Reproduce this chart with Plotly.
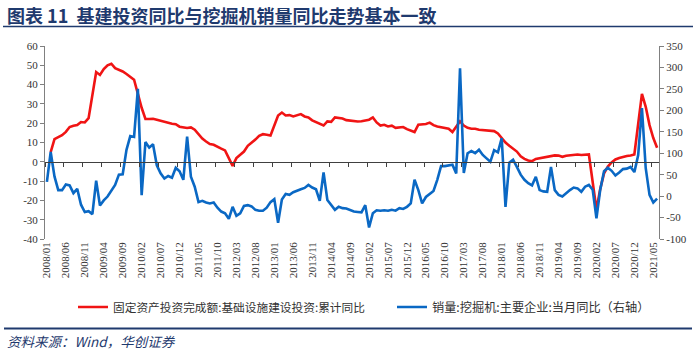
import plotly.graph_objects as go

# ---------------- data ----------------
months = [f"{y}/{m:02d}" for y in range(2008, 2022) for m in range(1, 13)][:162]  # 2008/01 .. 2021/06
tick_labels = months[::5]

# 固定资产投资完成额:基础设施建设投资:累计同比 (%, left axis) — January not published
infra_yoy = [
    None, 5, 11.8, 12.8, 13.8, 15.5, 18, 18.7, 19, 20.6, 20.4, 22.6,
    None, 46.5, 45, 48, 50, 50.8, 48.5, 47.7, 46.8, 45.5, 44.2, 42.5,
    None, 28, 22.2, 22.2, 22.3, 21.8, 21.3, 20.8, 20, 19.7, 19.5, 18.2,
    None, 17.5, 17.8, 16.6, 14, 12, 10.5, 9.2, 8.8, 8, 6.8, 5.9,
    None, -2.1, 1.9, 3.6, 5.3, 8.3, 9.8, 11.5, 13.5, 14.3, 14, 13.6,
    None, 24, 25.5, 24, 24.2, 23.5, 24, 24.7, 23.5, 23, 21.5, 20.5,
    None, 18.8, 20.9, 20.7, 23, 22.8, 22.4, 21.6, 21.3, 21.2, 20.9, 21.0,
    None, 21.8, 23, 20.4, 18.8, 19.2, 18.3, 18.7, 17.6, 17.9, 18, 16.9,
    None, 15.4, 19.2, 19.5, 19.6, 20.3, 19, 18.3, 17.9, 17.5, 17.1, 15.4,
    None, 21, 18.8, 17.6, 17.1, 17.1, 16.6, 16.4, 16.2, 16, 15.9, 14.7,
    None, 10, 8.3, 6.8, 5.3, 2.8, 1.5, 0.7, 0.3, 1.5, 1.9, 2.1,
    None, 3, 3.3, 3.2, 2.6, 3.1, 3.3, 3.5, 3.8, 3.5, 3.6, 3.8,
    None, -24.7, -14, -6, -2.5, -0.3, 1.2, 2.0, 2.6, 3.0, 3.3, 3.8,
    None, 35.2, 28.5, 19, 12.3, 7.3,
]

# 销量:挖掘机:主要企业:当月同比 (%, right axis)
excavator_yoy = [
    33, 103, 46, 14, 14, 27, 25, 7, 17, -20, -37, -35,
    -42, 36, -22, -10, -1, 12, 26, 50, 51, 108, 140, 138,
    250, 2, 126, 113, 121, 72, 53, 41, 47, 43, 66, 58,
    38, 139, 45, 22, -14, -11, -15, -17, -15, -27, -36, -40,
    -53, -25, -46, -40, -23, -21, -24, -32, -34, -34, -27, -14,
    -7, -62, -8, 5, 3, 9, 13, 16, 19, 26, 20, 16,
    -11, 55, -9, -21, -32, -25, -28, -29, -33, -36, -37, -38,
    -21, -73, -40, -33, -34, -33, -34, -32, -34, -28, -30, -25,
    -17, 38, 14, -17, -2, 4, 12, 38, 70, 70, 71, 73,
    53, 298, 54, 100, 105, 100, 108, 96, 88, 80, 107, 102,
    135, -25, 78, 85, 68, 50, 38, 30, 25, 45, 14, 11,
    10, 68, 14, 3, -1, 7, 14, 20, 18, 10, 22, 26,
    15, -52, 15, 58, 66, 59, 48, 55, 63, 64, 68, 56,
    95, 205, 65, 3, -15, -6,
]

left_ticks = [-40, -30, -20, -10, 0, 10, 20, 30, 40, 50, 60]
right_ticks = [-100, -50, 0, 50, 100, 150, 200, 250, 300, 350]

series_names = [
    "固定资产投资完成额:基础设施建设投资:累计同比",
    "销量:挖掘机:主要企业:当月同比（右轴）",
]
title_text = "图表 11  基建投资同比与挖掘机销量同比走势基本一致"
source_text = "资料来源：Wind，华创证券"

# ---------------- styling ----------------
W, H = 700, 355
L, R, T, B = 45, 41, 46, 116
PW, PH = W - L - R, H - T - B
RED = "#F01414"
BLUE = "#0A68C4"
NAVY = "#1F3A6E"
AXIS = "#808080"
TXT = "#333333"
NUMFONT = dict(family="Liberation Serif, Times New Roman, serif", size=11, color=TXT)
CJK = "Noto Sans CJK SC"


def px(x):
    return (x - L) / PW


def py(y):
    return (H - B - y) / PH


idx = list(range(len(months)))

fig = go.Figure()
fig.add_trace(go.Scatter(
    x=idx, y=infra_yoy, name=series_names[0], mode="lines",
    line=dict(color=RED, width=2.6), connectgaps=True,
    xaxis="x", yaxis="y", hoverinfo="skip", legend="legend",
))
fig.add_trace(go.Scatter(
    x=idx, y=excavator_yoy, name=series_names[1], mode="lines",
    line=dict(color=BLUE, width=2.6),
    xaxis="x2", yaxis="y2", hoverinfo="skip", legend="legend2",
))

legend_style = dict(
    orientation="h", xref="container", yref="container",
    xanchor="left", y=1 - 307 / H, yanchor="middle",
    bgcolor="rgba(0,0,0,0)", itemwidth=30,
)

xr = [-0.5, len(months) - 0.5]
fig.update_layout(
    width=W, height=H,
    margin=dict(l=L, r=R, t=T, b=B, pad=0, autoexpand=False),
    paper_bgcolor="white", plot_bgcolor="white",
    showlegend=True,
    legend=dict(x=73 / W, font=dict(family=CJK, size=11.7, color=TXT), **legend_style),
    legend2=dict(x=392 / W, font=dict(family=CJK, size=12.2, color=TXT), **legend_style),
    xaxis=dict(
        range=xr, tickmode="array", tickvals=idx[::5], ticktext=tick_labels,
        tickangle=-90, showline=False, ticks="", showgrid=False, zeroline=False,
        tickfont=NUMFONT, fixedrange=True, automargin=False,
    ),
    xaxis2=dict(
        overlaying="x", anchor="free", position=0.4, range=xr,
        showline=True, linecolor="#404040", linewidth=1,
        ticks="outside", ticklen=4, tickwidth=1, tickcolor="#404040",
        tickmode="array", tickvals=[k - 0.5 for k in idx[::5]],
        showticklabels=False, showgrid=False, zeroline=False, automargin=False,
    ),
    yaxis=dict(
        range=[-40, 60], tickmode="array", tickvals=left_ticks,
        ticktext=[str(v) for v in left_ticks],
        showline=True, linecolor=AXIS, linewidth=1,
        ticks="outside", ticklen=4, tickcolor=AXIS,
        showgrid=False, zeroline=False, tickfont=NUMFONT, automargin=False,
    ),
    yaxis2=dict(
        range=[-100, 350], overlaying="y", side="right", anchor="x2",
        tickmode="array", tickvals=right_ticks,
        ticktext=[str(v) for v in right_ticks],
        showline=True, linecolor=AXIS, linewidth=1,
        ticks="outside", ticklen=4, tickcolor=AXIS,
        showgrid=False, zeroline=False, tickfont=NUMFONT, automargin=False,
    ),
)

fig.add_annotation(
    text=f"<b>{title_text}</b>", xref="paper", yref="paper",
    x=px(5), y=py(15), xanchor="left", yanchor="middle", showarrow=False,
    font=dict(family=CJK, size=18, color=NAVY),
)
fig.add_annotation(
    text=f"<i>{source_text}</i>", xref="paper", yref="paper",
    x=px(5), y=py(341), xanchor="left", yanchor="middle", showarrow=False,
    font=dict(family=CJK, size=13.5, color=NAVY),
)
fig.add_shape(type="line", xref="paper", yref="paper",
              x0=px(3), x1=px(693), y0=py(26.5), y1=py(26.5),
              line=dict(color=NAVY, width=1.5))
fig.add_shape(type="line", xref="paper", yref="paper",
              x0=px(4), x1=px(692), y0=py(328.5), y1=py(328.5),
              line=dict(color=NAVY, width=2))

fig.write_html(
    "out.html",
    config={"displayModeBar": False, "staticPlot": True},
    post_script="document.body.style.margin='0';document.body.style.overflow='hidden';",
)
